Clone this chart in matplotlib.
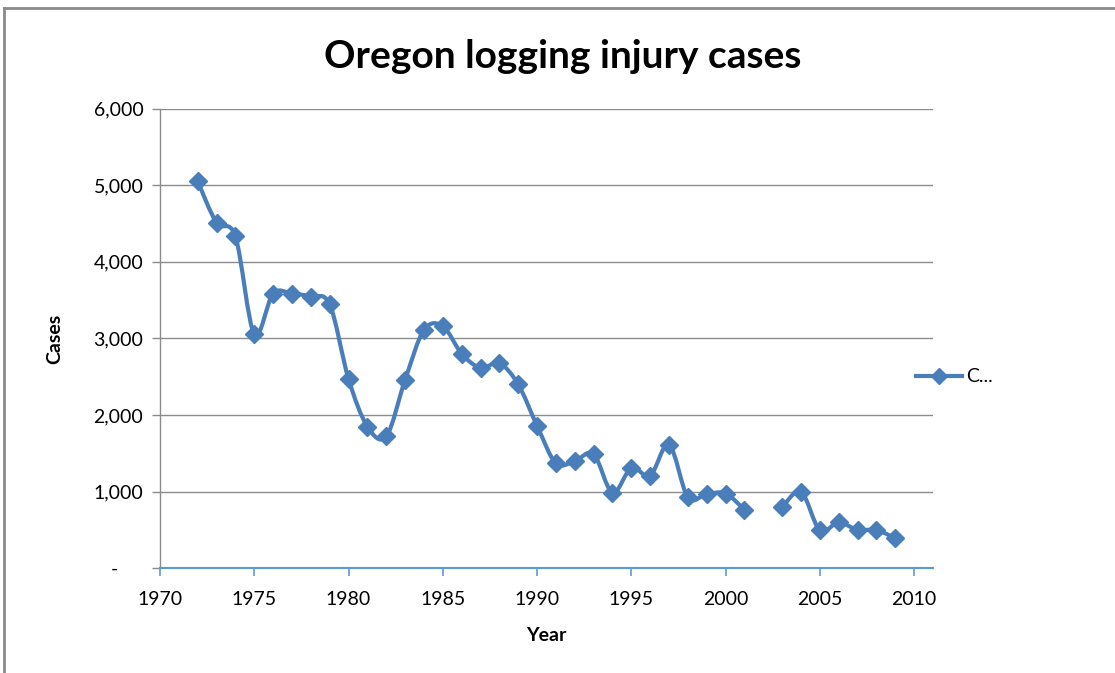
import numpy as np
import matplotlib
matplotlib.use("Agg")
import matplotlib.pyplot as plt
from matplotlib.path import Path
from matplotlib.patches import PathPatch
from matplotlib.lines import Line2D
from matplotlib.ticker import FixedLocator, FuncFormatter

years = [1972, 1973, 1974, 1975, 1976, 1977, 1978, 1979, 1980, 1981,
         1982, 1983, 1984, 1985, 1986, 1987, 1988, 1989, 1990, 1991,
         1992, 1993, 1994, 1995, 1996, 1997, 1998, 1999, 2000, 2001,
         2002, 2003, 2004, 2005, 2006, 2007, 2008, 2009]
cases = [5050, 4510, 4330, 3055, 3585, 3585, 3545, 3445, 2470, 1850,
         1720, 2460, 3110, 3160, 2800, 2615, 2675, 2400, 1860, 1370,
         1400, 1490, 985, 1310, 1210, 1615, 925, 970, 975, 765,
         np.nan, 795, 1000, 495, 600, 500, 500, 390]
series_name = "C..."
title = "Oregon logging injury cases"
xlabel = "Year"
ylabel = "Cases"
xticks = [1970, 1975, 1980, 1985, 1990, 1995, 2000, 2005, 2010]
yticks = [0, 1000, 2000, 3000, 4000, 5000, 6000]

LINE = "#4A7EBB"
AXBLUE = "#5B9BD5"
GRID = "#8C8C8C"
FONT = "Lato"

fig = plt.figure(figsize=(11.15, 6.73), dpi=100)
ax = fig.add_axes([160/1115, 1-568.3/673, (933-160)/1115, (568.3-108.5)/673])

# smoothed line (Catmull-Rom via cubic Bezier), split at gaps
x = np.array(years, dtype=float)
y = np.array(cases, dtype=float)
valid = ~np.isnan(y)
segs = []
cur = []
for xi, yi, v in zip(x, y, valid):
    if v:
        cur.append((xi, yi))
    else:
        if cur:
            segs.append(cur)
        cur = []
if cur:
    segs.append(cur)

verts, codes = [], []
for seg in segs:
    P = np.array(seg)
    n = len(P)
    verts.append(P[0]); codes.append(Path.MOVETO)
    for i in range(n - 1):
        p0 = P[i - 1] if i > 0 else P[i]
        p1 = P[i]
        p2 = P[i + 1]
        p3 = P[i + 2] if i + 2 < n else P[i + 1]
        c1 = p1 + (p2 - p0) / 6.0
        c2 = p2 - (p3 - p1) / 6.0
        verts += [c1, c2, p2]
        codes += [Path.CURVE4] * 3
path = Path(np.array(verts), codes)
ax.add_patch(PathPatch(path, facecolor="none", edgecolor=LINE, lw=3.0,
                       capstyle="round", joinstyle="round", zorder=3))
ax.plot(x, y, ls="none", marker="D", ms=9, color=LINE, zorder=4)

ax.set_xlim(1970, 2011)
ax.set_ylim(0, 6000)
ax.xaxis.set_major_locator(FixedLocator(xticks))
ax.yaxis.set_major_locator(FixedLocator(yticks))
ax.yaxis.set_major_formatter(FuncFormatter(
    lambda v, p: "-     " if v == 0 else f"{int(v):,}"))

ax.grid(axis="y", color=GRID, lw=1.0)
ax.set_axisbelow(True)
for s in ["top", "right"]:
    ax.spines[s].set_visible(False)
ax.spines["left"].set_color(GRID)
ax.spines["left"].set_linewidth(1.0)
ax.spines["bottom"].set_color(AXBLUE)
ax.spines["bottom"].set_linewidth(1.5)
ax.tick_params(axis="x", direction="out", length=6, width=1.2, color=AXBLUE,
               labelsize=14, pad=10)
ax.tick_params(axis="y", direction="out", length=6, width=1.0, color=GRID,
               labelsize=14, pad=6)
for lab in ax.get_xticklabels() + ax.get_yticklabels():
    lab.set_fontfamily(FONT)

ax.set_xlabel(xlabel, fontfamily=FONT, fontweight="bold", fontsize=14, labelpad=14)
ax.set_ylabel(ylabel, fontfamily=FONT, fontweight="bold", fontsize=14, labelpad=22)
fig.text(563/1115, 1-57/673, title, ha="center", va="center",
         fontfamily=FONT, fontweight="bold", fontsize=28)

handle = Line2D([], [], color=LINE, lw=3.0, marker="D", ms=8)
fig.legend([handle], [series_name], loc="center left",
           bbox_to_anchor=(916/1115, 1-377/673), frameon=False,
           borderaxespad=0, borderpad=0,
           handlelength=2.35, handletextpad=0.25,
           prop={"family": FONT, "size": 14})

# chart frame (top and left edges visible)
fig.add_artist(Line2D([4/1115, 1], [1-8/673, 1-8/673], color="#8A8A8A", lw=2,
                      transform=fig.transFigure))
fig.add_artist(Line2D([4/1115, 4/1115], [0, 1-8/673], color="#8A8A8A", lw=2,
                      transform=fig.transFigure))

fig.savefig("out.png", dpi=100)
